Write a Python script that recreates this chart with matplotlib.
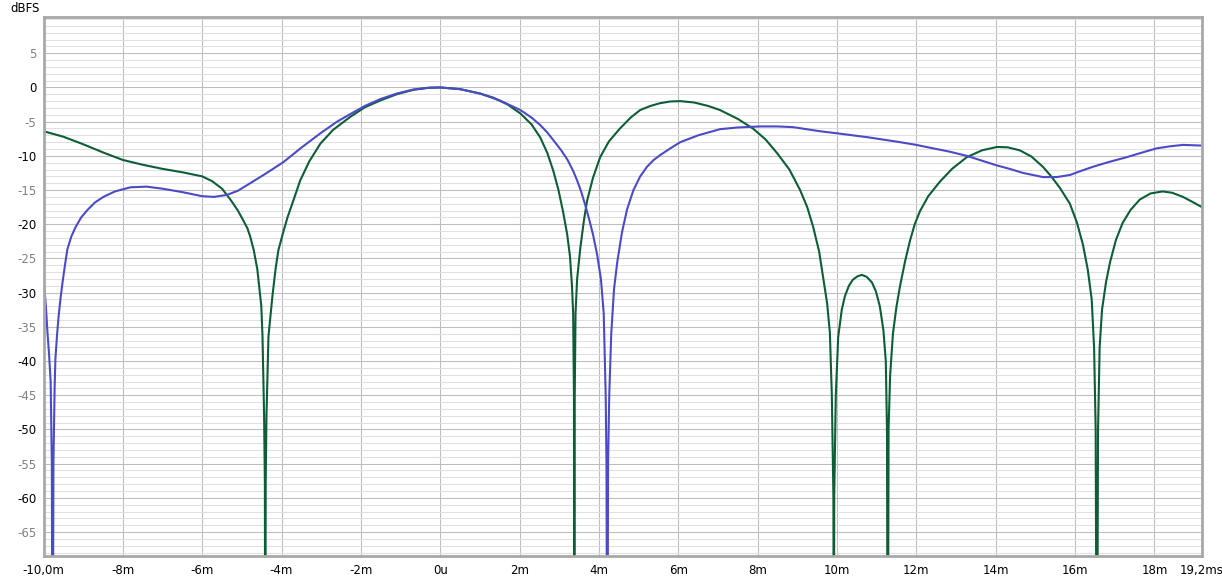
import matplotlib
matplotlib.use('Agg')
import matplotlib.pyplot as plt
import numpy as np

# time in ms, level in dBFS (notches read as -100, clipped by the axes)
blue_t = [-10.0, -9.975, -9.94, -9.90, -9.86, -9.82, -9.79, -9.77, -9.75, -9.72,
          -9.70, -9.66, -9.62, -9.57, -9.52, -9.46, -9.40, -9.30, -9.19, -9.05,
          -8.89, -8.70, -8.49, -8.20, -7.81, -7.40, -7.00, -6.50, -6.00, -5.70,
          -5.37, -5.10, -4.79, -4.40, -3.95, -3.50, -3.02, -2.60, -2.27, -1.90,
          -1.51, -1.10, -0.68, -0.30, 0.0, 0.50, 1.01, 1.50, 2.02, 2.30,
          2.52, 2.70, 2.85, 3.05, 3.20, 3.35, 3.45, 3.55, 3.65, 3.75,
          3.85, 3.95, 4.05, 4.12, 4.17, 4.19, 4.21, 4.23, 4.26, 4.31,
          4.38, 4.46, 4.58, 4.71, 4.87, 5.04, 5.21, 5.38, 5.54, 5.80,
          6.05, 6.50, 7.05, 7.50, 8.06, 8.50, 8.89, 9.57, 10.0, 10.80,
          11.59, 12.00, 12.42, 12.85, 13.27, 13.65, 14.03, 14.35, 14.69, 15.19,
          15.54, 15.87, 16.15, 16.45, 16.85, 17.30, 17.70, 18.06, 18.40, 18.72,
          19.2]
blue_db = [-28.8, -29.5, -32.0, -35.8, -39.0, -43.0, -55.0, -100, -55.0, -44.0,
           -39.7, -36.3, -33.5, -30.8, -28.5, -26.0, -23.7, -21.8, -20.4, -19.0,
           -17.9, -16.8, -16.0, -15.2, -14.6, -14.5, -14.8, -15.3, -15.9, -16.0,
           -15.7, -15.1, -14.0, -12.6, -10.9, -8.8, -6.7, -5.0, -3.9, -2.7,
           -1.7, -0.9, -0.3, -0.05, 0.0, -0.25, -0.9, -1.9, -3.3, -4.4,
           -5.5, -6.6, -7.7, -9.2, -10.5, -12.2, -13.6, -15.2, -17.1, -19.2,
           -21.5, -24.3, -28.0, -33.0, -45.0, -55.0, -100, -55.0, -45.0, -36.0,
           -29.5, -25.6, -21.2, -17.8, -15.0, -13.0, -11.6, -10.6, -9.9, -8.9,
           -8.0, -7.0, -6.1, -5.85, -5.7, -5.7, -5.8, -6.4, -6.7, -7.3,
           -8.0, -8.4, -8.9, -9.4, -10.0, -10.7, -11.4, -11.9, -12.5, -13.1,
           -13.1, -12.8, -12.2, -11.6, -10.9, -10.2, -9.5, -8.9, -8.6, -8.4,
           -8.5]

green_t = [-10.0, -9.50, -9.00, -8.50, -8.00, -7.50, -7.00, -6.50, -6.00, -5.75,
           -5.50, -5.30, -5.10, -4.95, -4.86, -4.79, -4.70, -4.61, -4.51, -4.48,
           -4.44, -4.42, -4.41, -4.40, -4.38, -4.33, -4.23, -4.15, -4.08, -3.95,
           -3.85, -3.70, -3.53, -3.30, -3.02, -2.70, -2.27, -1.90, -1.51, -1.10,
           -0.68, -0.30, 0.0, 0.50, 1.01, 1.34, 1.70, 2.02, 2.30, 2.52,
           2.70, 2.85, 2.98, 3.10, 3.20, 3.27, 3.32, 3.35, 3.37, 3.38,
           3.39, 3.41, 3.45, 3.53, 3.62, 3.70, 3.85, 4.03, 4.25, 4.53,
           4.80, 5.04, 5.30, 5.54, 5.80, 6.05, 6.40, 6.75, 7.05, 7.50,
           7.88, 8.20, 8.49, 8.80, 9.07, 9.25, 9.40, 9.55, 9.65, 9.75,
           9.82, 9.87, 9.91, 9.92, 9.93, 9.97, 10.03, 10.12, 10.20, 10.30,
           10.40, 10.52, 10.63, 10.75, 10.88, 10.98, 11.08, 11.17, 11.23, 11.26,
           11.28, 11.30, 11.34, 11.41, 11.50, 11.59, 11.72, 11.84, 11.96, 12.09,
           12.30, 12.59, 12.90, 13.27, 13.65, 14.03, 14.30, 14.61, 14.90, 15.19,
           15.40, 15.62, 15.87, 16.05, 16.20, 16.32, 16.42, 16.48, 16.52, 16.55,
           16.58, 16.62, 16.68, 16.78, 16.88, 17.03, 17.20, 17.40, 17.63, 17.90,
           18.21, 18.45, 18.72, 18.95, 19.2]
green_db = [-6.4, -7.2, -8.3, -9.5, -10.6, -11.3, -11.9, -12.4, -13.0, -13.7,
            -14.8, -16.3, -18.0, -19.6, -20.6, -21.8, -23.8, -26.6, -32.0, -36.4,
            -48.0, -58.0, -100, -58.0, -48.0, -36.4, -30.5, -26.5, -23.8, -21.0,
            -19.0, -16.5, -13.6, -10.8, -8.2, -6.2, -4.3, -2.9, -1.9, -1.0,
            -0.35, -0.05, 0.0, -0.25, -0.9, -1.5, -2.5, -3.8, -5.4, -7.3,
            -9.6, -12.2, -15.0, -18.3, -21.5, -24.7, -29.0, -33.0, -45.0, -100,
            -45.0, -33.0, -28.0, -23.5, -19.5, -16.6, -13.2, -10.2, -7.9, -6.0,
            -4.4, -3.3, -2.7, -2.3, -2.05, -2.0, -2.2, -2.7, -3.3, -4.6,
            -6.0, -7.6, -9.6, -12.0, -15.0, -17.5, -20.4, -24.0, -27.7, -31.5,
            -35.8, -45.0, -60.0, -100, -60.0, -45.0, -36.5, -32.5, -30.5, -29.0,
            -28.1, -27.6, -27.4, -27.7, -28.5, -29.8, -32.0, -35.5, -40.0, -50.0,
            -100, -50.0, -42.0, -36.0, -32.0, -29.0, -25.3, -22.4, -20.0, -18.1,
            -15.9, -13.8, -11.9, -10.2, -9.2, -8.7, -8.75, -9.2, -10.1, -11.6,
            -13.0, -14.7, -17.0, -19.8, -23.0, -26.6, -31.0, -38.0, -50.0, -100,
            -50.0, -38.0, -32.5, -28.5, -25.6, -22.3, -19.8, -17.9, -16.4, -15.5,
            -15.2, -15.4, -16.0, -16.7, -17.5]

x_ticks = [-10, -8, -6, -4, -2, 0, 2, 4, 6, 8, 10, 12, 14, 16, 18, 19.2]
x_labels = ['-10,0m', '-8m', '-6m', '-4m', '-2m', '0u', '2m', '4m', '6m', '8m',
            '10m', '12m', '14m', '16m', '18m', '19,2ms']
y_ticks = [5, 0, -5, -10, -15, -20, -25, -30, -35, -40, -45, -50, -55, -60, -65]

fig = plt.figure(figsize=(12.22, 5.81), dpi=100)
ax = fig.add_axes([43.5 / 1222, 25 / 581, (1202 - 43.5) / 1222, 539 / 581])

ax.plot(green_t, green_db, color='#0d5e36', lw=1.5)
ax.plot(blue_t, blue_db, color='#4b4bc6', lw=1.5)

ax.set_xlim(-10, 19.2)
ax.set_ylim(-68.5, 10.3)

ax.set_xticks(x_ticks)
ax.set_xticklabels(x_labels)
ax.set_yticks(y_ticks)
ax.set_yticklabels([str(v) for v in y_ticks])
ax.set_yticks(np.arange(-68, 11, 1), minor=True)
ax.tick_params(length=0, labelsize=8.5, pad=5)
ax.tick_params(axis='x', pad=6)
ax.tick_params(which='minor', length=0)
for v, lab in zip(y_ticks, ax.get_yticklabels()):
    lab.set_color('black' if v % 10 == 0 else '#808080')

ax.grid(which='major', color='#bdbdbd', lw=0.75)
ax.grid(which='minor', axis='y', color='#e0e0e0', lw=0.75)
ax.set_axisbelow(True)

for s in ax.spines.values():
    s.set_color('#a8a8a8')
    s.set_linewidth(2)

fig.text(10 / 1222, 1 - 9 / 581, 'dBFS', fontsize=8.5, va='center', ha='left')

plt.savefig('out.png', dpi=100)
